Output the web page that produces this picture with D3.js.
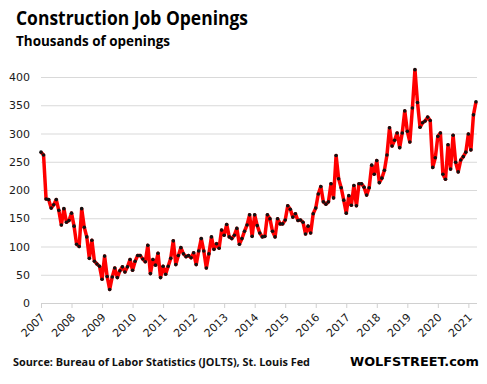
<!DOCTYPE html>
<html>
<head>
<meta charset="utf-8">
<script src="https://cdn.jsdelivr.net/npm/d3@7"></script>
<style>
  html, body { margin: 0; padding: 0; background: #fff; }
  svg { display: block; }
</style>
</head>
<body>
<svg id="chart" width="487" height="384"></svg>
<script>
// monthly construction job openings, Jan 2007 .. Apr 2021 (thousands)
const startYear = 2007;
const openings = [
  267, 262, 184, 183, 168, 174, 183, 164, 138, 167, 143, 146,
  159, 136, 104, 100, 167, 134, 117, 79, 111, 74, 69, 65,
  42, 83, 47, 24, 46, 62, 45, 57, 64, 55, 64, 77,
  58, 74, 84, 84, 78, 73, 102, 52, 77, 67, 88, 45,
  65, 51, 65, 79, 110, 68, 84, 98, 87, 82, 84, 80,
  89, 68, 92, 114, 92, 62, 87, 117, 95, 105, 97, 129,
  120, 139, 117, 114, 120, 132, 104, 114, 127, 138, 156, 118,
  156, 137, 124, 117, 118, 156, 149, 127, 117, 149, 140, 140,
  147, 172, 166, 152, 158, 146, 147, 143, 122, 136, 124, 158,
  168, 193, 206, 179, 175, 179, 211, 186, 261, 220, 204, 182,
  159, 190, 173, 208, 172, 211, 211, 205, 191, 204, 244, 228,
  252, 213, 221, 235, 262, 310, 278, 288, 301, 275, 301, 340,
  304, 285, 345, 413, 355, 311, 319, 322, 329, 323, 240, 257,
  295, 301, 228, 219, 280, 237, 297, 249, 232, 253, 259, 267,
  299, 271, 333, 356
];
const yTicks = [0, 50, 100, 150, 200, 250, 300, 350, 400];
const yearLabels = ["2007", "2008", "2009", "2010", "2011", "2012", "2013", "2014",
  "2015", "2016", "2017", "2018", "2019", "2020", "2021"];

const svg = d3.select("#chart");
const plot = { left: 41, right: 476, top: 77, bottom: 303 };

const x = d3.scaleLinear().domain([0, openings.length - 1]).range([plot.left, plot.right]);
const y = d3.scaleLinear().domain([0, 400]).range([plot.bottom, plot.top]);

// gridlines + y labels
const yAxis = svg.append("g")
  .attr("transform", `translate(${plot.left},0)`)
  .call(d3.axisLeft(y).tickValues(yTicks).tickSize(-(plot.right - plot.left + 1)).tickPadding(11));
yAxis.select(".domain").remove();
yAxis.selectAll(".tick line").attr("stroke", "#d9d9d9").attr("stroke-width", 1);
yAxis.selectAll(".tick text")
  .attr("fill", "#1a1a1a")
  .style("font", "11px 'DejaVu Sans', sans-serif");

// x axis
const xAxis = svg.append("g")
  .attr("transform", `translate(0,${plot.bottom})`)
  .call(d3.axisBottom(x)
    .tickValues(yearLabels.map((d, i) => i * 12))
    .tickFormat((d) => yearLabels[d / 12])
    .tickSize(5)
    .tickSizeOuter(0));
xAxis.select(".domain").attr("stroke", "#d0d0d0").attr("d", `M${plot.left},0.5H${plot.right + 1}`);
xAxis.selectAll(".tick line").attr("stroke", "#d0d0d0");
xAxis.selectAll(".tick text")
  .attr("y", null).attr("dy", null)
  .attr("text-anchor", "end")
  .attr("transform", "translate(4,15) rotate(-45)")
  .attr("fill", "#1a1a1a")
  .style("font", "11px 'DejaVu Sans', sans-serif");

// the line and its markers
const line = d3.line().x((d, i) => x(i)).y((d) => y(d));
svg.append("path")
  .datum(openings)
  .attr("d", line)
  .attr("fill", "none")
  .attr("stroke", "#ff0000")
  .attr("stroke-width", 3.5)
  .attr("stroke-linejoin", "round");
svg.append("g").selectAll("circle").data(openings).join("circle")
  .attr("cx", (d, i) => x(i))
  .attr("cy", (d) => y(d))
  .attr("r", 1.8)
  .attr("fill", "#111");

// titles
svg.append("text").attr("x", 16).attr("y", 25)
  .attr("textLength", 232).attr("lengthAdjust", "spacingAndGlyphs")
  .style("font", "bold 19px 'Open Sans', sans-serif").attr("fill", "#000")
  .text("Construction  Job Openings");
svg.append("text").attr("x", 16).attr("y", 46)
  .attr("textLength", 154).attr("lengthAdjust", "spacingAndGlyphs")
  .style("font", "bold 13.5px 'Open Sans', sans-serif").attr("fill", "#000")
  .text("Thousands of openings");

svg.append("text").attr("x", 13).attr("y", 366)
  .attr("textLength", 297).attr("lengthAdjust", "spacingAndGlyphs")
  .style("font", "bold 10.5px 'Open Sans', sans-serif").attr("fill", "#111")
  .text("Source: Bureau of Labor Statistics (JOLTS), St. Louis Fed");
svg.append("text").attr("x", 350).attr("y", 366)
  .attr("textLength", 129).attr("lengthAdjust", "spacingAndGlyphs")
  .style("font", "bold 12px 'DejaVu Sans', sans-serif").attr("fill", "#000")
  .text("WOLFSTREET.com");
</script>
</body>
</html>
